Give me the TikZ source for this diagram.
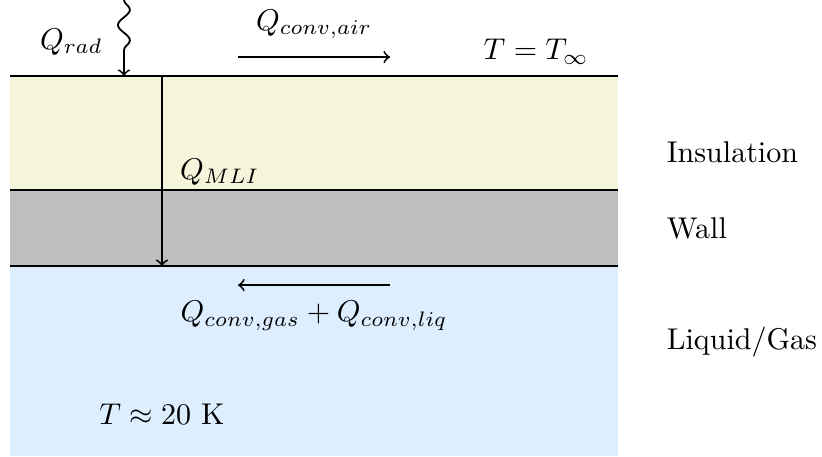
\documentclass[tikz,border=0pt]{standalone}
\usepackage{amsmath}
\usepackage{tikz}
\usepackage{xcolor}
\usetikzlibrary{decorations.pathmorphing}
\definecolor{Layer_Insulation}{HTML}{F5F5DC}
\definecolor{Layer_Wall}{HTML}{BEBEBE}
\definecolor{Layer_Liquid}{HTML}{DDEEFF}

\begin{document}
\begin{tikzpicture}[scale=0.89]
    \useasboundingbox (-0.13,0) rectangle (10.68,6);
    % Layers
    \fill[Layer_Liquid] (0,0) rectangle (8,2.5);
    \fill[Layer_Wall] (0,2.5) rectangle (8,3.5);
    \fill[Layer_Insulation] (0,3.5) rectangle (8,5);
    \draw[semithick] (0,5) -- (8,5);
    \draw[semithick] (0,3.5) -- (8,3.5);
    \draw[semithick] (0,2.5) -- (8,2.5);
    % Layer names
    \node[right] (insul) at (8.5,4) {Insulation};
    \node[right] (wall) at (8.5,3) {Wall};
    \node[right] (liquid) at (8.5,1.5) {Liquid/Gas};
    % Radiation
    \coordinate (radTop) at (1.5,6); \coordinate (radBot) at (1.5,5);
    \draw[semithick, ->, decorate, decoration={snake, amplitude=.7mm, segment length=3.6mm, post length=2mm}] (radTop) -- (radBot);
    \node[left] (qrad) at (1.36,5.45) {$Q_{rad}$};
    % Air side
    \coordinate (airL) at (3,5.25); \coordinate (airR) at (5,5.25);
    \draw[semithick, ->] (airL) -- (airR);
    \node (qair) at (4,5.68) {$Q_{conv,air}$};
    \node (tinf) at (6.92,5.32) {$T = T_\infty$};
    % Through MLI and wall
    \coordinate (mliTop) at (2,5); \coordinate (mliBot) at (2,2.5);
    \draw[semithick, ->] (mliTop) -- (mliBot);
    \node[right] (qmli) at (2.1,3.74) {$Q_{MLI}$};
    % Tank side
    \coordinate (liqR) at (5,2.25); \coordinate (liqL) at (3,2.25);
    \draw[semithick, ->] (liqR) -- (liqL);
    \node (qliq) at (4,1.85) {$Q_{conv,gas} + Q_{conv,liq}$};
    \node (tliq) at (2,0.55) {$T \approx 20$ K};
\end{tikzpicture}
\end{document}
